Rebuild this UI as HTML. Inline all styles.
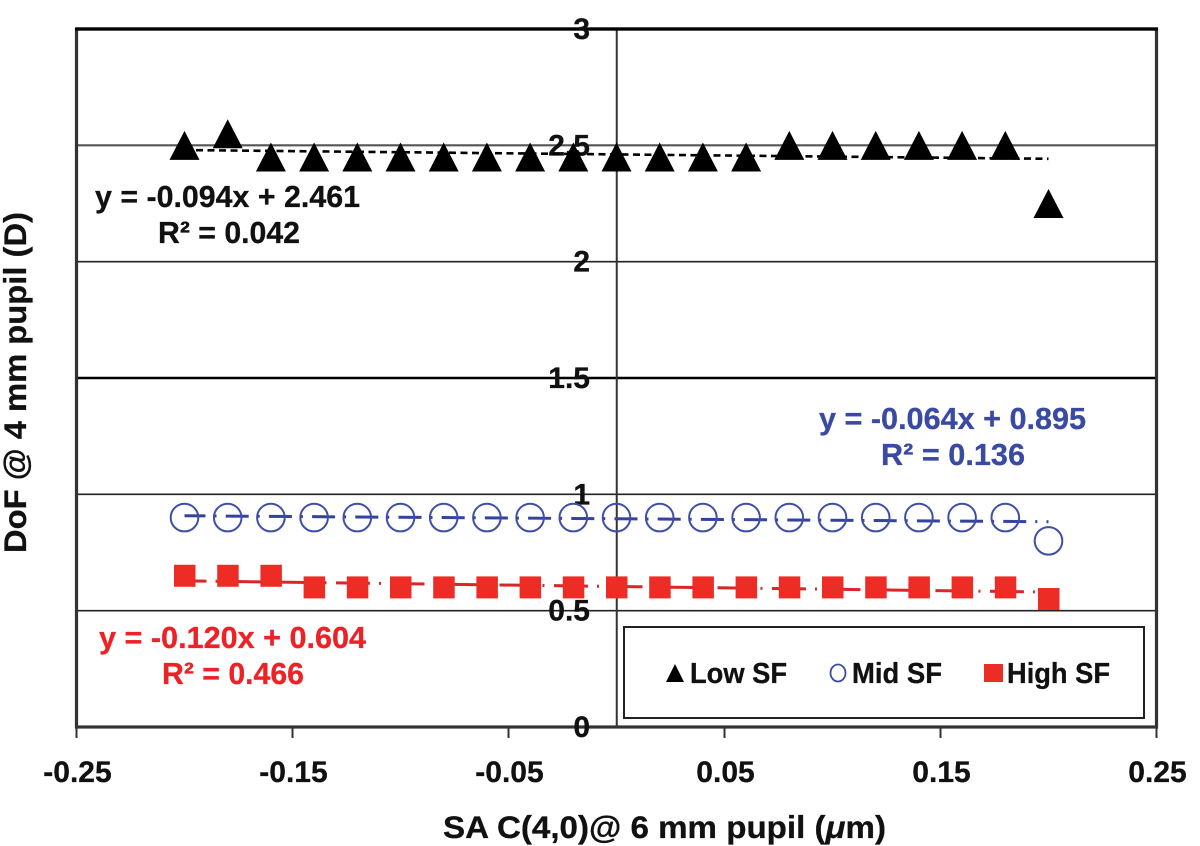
<!DOCTYPE html>
<html lang="en">
<head>
<meta charset="utf-8">
<title>DoF vs SA chart</title>
<style>
html,body{margin:0;padding:0;background:#fff;width:1200px;height:846px;overflow:hidden}
svg{display:block;filter:blur(0.35px)}
text{font-family:"Liberation Sans",Arial,sans-serif;font-weight:bold;fill:#111;stroke:#111;stroke-width:0.3px}
</style>
</head>
<body>
<svg id="chart" xmlns="http://www.w3.org/2000/svg" width="1200" height="846" viewBox="0 0 1200 846">
  <rect x="0" y="0" width="1200" height="846" fill="#fff"/>
  <g id="grid"></g>
  <line x1="616.75" y1="29" x2="616.75" y2="727" stroke="#333" stroke-width="2"/>
  <rect x="76.5" y="29" width="1080" height="698" fill="none" stroke="#333" stroke-width="3.2"/>
  <line x1="75" y1="29" x2="1158" y2="29" stroke="#000" stroke-width="3.2"/>
  <g id="ticks"></g>
  <g id="ylabels"></g>
  <g id="xlabels"></g>
  <g id="trends"></g>
  <g id="marks"></g>

  <text x="95" y="207" font-size="30.5" textLength="265" lengthAdjust="spacingAndGlyphs">y = -0.094x + 2.461</text>
  <text x="158" y="243" font-size="30.5" textLength="142" lengthAdjust="spacingAndGlyphs">R² = 0.042</text>
  <text x="819" y="429" font-size="30.5" textLength="267" lengthAdjust="spacingAndGlyphs" style="fill:#3a4aa3;stroke:#3a4aa3">y = -0.064x + 0.895</text>
  <text x="881" y="465" font-size="30.5" textLength="144" lengthAdjust="spacingAndGlyphs" style="fill:#3a4aa3;stroke:#3a4aa3">R² = 0.136</text>
  <text x="99" y="648" font-size="30.5" textLength="267" lengthAdjust="spacingAndGlyphs" style="fill:#ec2227;stroke:#ec2227">y = -0.120x + 0.604</text>
  <text x="162" y="684" font-size="30.5" textLength="142" lengthAdjust="spacingAndGlyphs" style="fill:#ec2227;stroke:#ec2227">R² = 0.466</text>

  <g>
    <rect x="624" y="627" width="520" height="91" fill="#fff" stroke="#222" stroke-width="2"/>
    <polygon points="675,664 684,682 666,682" fill="#000"/>
    <text x="690" y="683" font-size="28.5" textLength="97" lengthAdjust="spacingAndGlyphs">Low SF</text>
    <ellipse cx="838" cy="673" rx="7.5" ry="8.5" fill="none" stroke="#3a4aa3" stroke-width="1.8"/>
    <text x="852" y="683" font-size="28.5" textLength="90" lengthAdjust="spacingAndGlyphs">Mid SF</text>
    <rect x="984" y="664" width="19" height="18" fill="#ee2c26"/>
    <text x="1007" y="683" font-size="28.5" textLength="103" lengthAdjust="spacingAndGlyphs">High SF</text>
  </g>

  <text x="443" y="838" font-size="31.5" textLength="443" lengthAdjust="spacingAndGlyphs">SA C(4,0)@ 6 mm pupil (<tspan font-style="italic">μ</tspan>m)</text>
  <text transform="translate(26,553) rotate(-90)" x="0" y="0" font-size="31.5" textLength="341" lengthAdjust="spacingAndGlyphs">DoF @ 4 mm pupil (D)</text>
</svg>

<script>
const xValues = [-0.20,-0.18,-0.16,-0.14,-0.12,-0.10,-0.08,-0.06,-0.04,-0.02,0,0.02,0.04,0.06,0.08,0.10,0.12,0.14,0.16,0.18,0.20];
const lowSF  = [2.5,2.55,2.45,2.45,2.45,2.45,2.45,2.45,2.45,2.45,2.45,2.45,2.45,2.45,2.5,2.5,2.5,2.5,2.5,2.5,2.25];
const midSF  = [0.9,0.9,0.9,0.9,0.9,0.9,0.9,0.9,0.9,0.9,0.9,0.9,0.9,0.9,0.9,0.9,0.9,0.9,0.9,0.9,0.8];
const highSF = [0.65,0.65,0.65,0.6,0.6,0.6,0.6,0.6,0.6,0.6,0.6,0.6,0.6,0.6,0.6,0.6,0.6,0.6,0.6,0.6,0.55];
const lowTrend  = [-0.094, 2.461];
const midTrend  = [-0.064, 0.895];
const highTrend = [-0.120, 0.604];
const trendRange = [-0.20, 0.20];
const xTicks = [-0.25,-0.15,-0.05,0.05,0.15,0.25];
const xTickLabels = ["-0.25","-0.15","-0.05","0.05","0.15","0.25"];
const yTicks = [0,0.5,1,1.5,2,2.5,3];
const yTickLabels = ["0","0.5","1","1.5","2","2.5","3"];

const NS = "http://www.w3.org/2000/svg";
function sx(v){ return 616.5 + v * 2160; }
function sy(v){ return 727 - v * (698 / 3); }
function mk(tag, parent, attrs){
  const el = document.createElementNS(NS, tag);
  for (const k in attrs) el.setAttribute(k, attrs[k]);
  parent.appendChild(el);
  return el;
}
const grid = document.getElementById('grid');
const ticks = document.getElementById('ticks');
const ylabels = document.getElementById('ylabels');
const xlabels = document.getElementById('xlabels');
const trends = document.getElementById('trends');
const marks = document.getElementById('marks');

yTicks.forEach(function(v, i){
  if (v > 0 && v < 3) {
    const strong = v === 1.5;
    const soft = v === 2.5;
    const g = mk('line', grid, {x1: sx(-0.25), x2: sx(0.25), y1: sy(v), y2: sy(v),
      stroke: soft ? '#555' : (strong ? '#000' : '#222'), 'stroke-width': soft ? 2.2 : (strong ? 2.4 : 1.6)});
    
    
  }
  const t = mk('text', ylabels, {x: 590, y: sy(v) + 10, 'text-anchor': 'end', 'font-size': 30});
  t.textContent = yTickLabels[i];
  
  
});

xTicks.forEach(function(v, i){
  const l = mk('line', ticks, {x1: sx(v), x2: sx(v), y1: 727, y2: 738, stroke: '#333', 'stroke-width': 2});
  
  
  const t = mk('text', xlabels, {x: sx(v) + 1, y: 782, 'text-anchor': 'middle', 'font-size': 30});
  t.textContent = xTickLabels[i];
  
  
});

function trendLine(coef, color, dash, width, offset){
  const a = trendRange[0], b = trendRange[1];
  const l = mk('line', trends, {
    x1: sx(a), y1: sy(coef[0] * a + coef[1]),
    x2: sx(b), y2: sy(coef[0] * b + coef[1]),
    stroke: color, 'stroke-width': width, 'stroke-dasharray': dash, 'stroke-dashoffset': offset
  });
  return l;
}
const lowLine = trendLine(lowTrend, '#000', '7 4.5', 2.6, 0);


const midLine = trendLine(midTrend, '#33439e', '23 9 2 9.2', 3, 2);


const highLine = trendLine(highTrend, '#d8262a', '34 9 2 9.5', 3, 12);



xValues.forEach(function(x, i){
  const cx = sx(x);
  const ly = sy(lowSF[i]);
  const tri = mk('polygon', marks, {points: (cx) + ',' + (ly - 14.5) + ' ' + (cx + 15) + ',' + (ly + 14.5) + ' ' + (cx - 15) + ',' + (ly + 14.5), fill: '#000'});
  
  

  const c = mk('circle', marks, {cx: cx, cy: sy(midSF[i]), r: 13.8, fill: 'none', stroke: '#3f4fa8', 'stroke-width': 2});
  
  

  const r = mk('rect', marks, {x: cx - 10.5, y: sy(highSF[i]) - 11, width: 21.5, height: 22, fill: '#ee2c26'});
  
  
});
</script>
</body>
</html>
